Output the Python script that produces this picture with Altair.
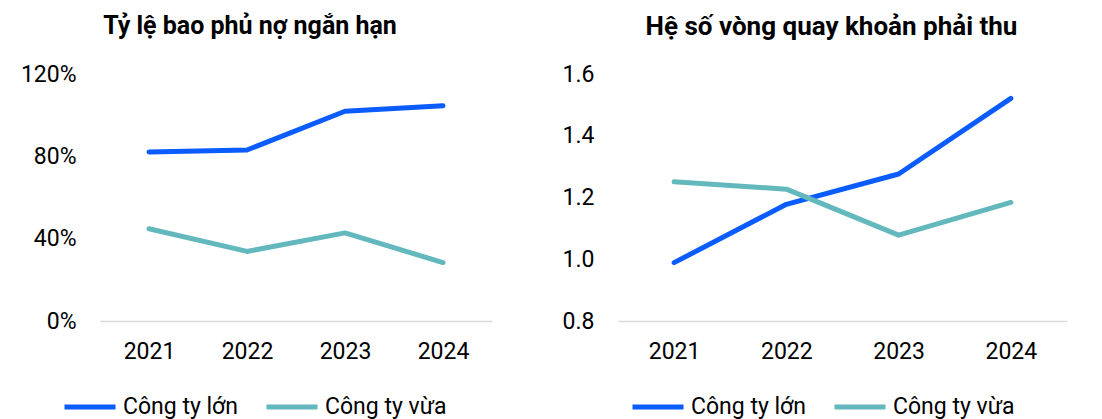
import altair as alt
import pandas as pd

years = ["2021", "2022", "2023", "2024"]
series = ["Công ty lớn", "Công ty vừa"]
colors = ["#0a5cff", "#62b8bc"]

coverage_large = [0.821, 0.831, 1.019, 1.046]
coverage_medium = [0.448, 0.338, 0.428, 0.284]
turnover_large = [0.989, 1.178, 1.276, 1.521]
turnover_medium = [1.251, 1.227, 1.078, 1.184]

title_left = "Tỷ lệ bao phủ nợ ngắn hạn"
title_right = "Hệ số vòng quay khoản phải thu"

FONT = "Roboto"
FS = 23


def make_df(a, b):
    rows = []
    for y, v in zip(years, a):
        rows.append({"Năm": y, "Nhóm": series[0], "v": v})
    for y, v in zip(years, b):
        rows.append({"Năm": y, "Nhóm": series[1], "v": v})
    return pd.DataFrame(rows)


def panel(df, title, width, domain, ticks, fmt, legend_x, title_dx, title_fs, title_off):
    return (
        alt.Chart(df)
        .mark_line(strokeWidth=5, strokeCap="round", strokeJoin="round")
        .encode(
            x=alt.X(
                "Năm:N",
                sort=years,
                scale=alt.Scale(type="point", padding=0.5),
                axis=alt.Axis(
                    title=None,
                    labelAngle=0,
                    ticks=False,
                    domainColor="#d9d9d9",
                    domainWidth=1.5,
                    labelPadding=19,
                    labelFontSize=FS,
                    labelColor="#000000",
                    labelFont=FONT,
                    grid=False,
                ),
            ),
            y=alt.Y(
                "v:Q",
                scale=alt.Scale(domain=domain, nice=False, zero=False),
                axis=alt.Axis(
                    title=None,
                    values=ticks,
                    format=fmt,
                    ticks=False,
                    domain=False,
                    grid=False,
                    labelPadding=24,
                    labelFontSize=FS,
                    labelColor="#000000",
                    labelFont=FONT,
                ),
            ),
            color=alt.Color(
                "Nhóm:N",
                sort=series,
                scale=alt.Scale(domain=series, range=colors),
                legend=alt.Legend(
                    title=None,
                    orient="none",
                    direction="horizontal",
                    legendX=legend_x,
                    legendY=305,
                    symbolType="stroke",
                    symbolSize=2601,
                    symbolStrokeWidth=5,
                    labelFontSize=FS,
                    labelFont=FONT,
                    labelColor="#000000",
                    labelOffset=5,
                    columnPadding=18,
                    padding=0,
                ),
            ),
        )
        .properties(
            width=width,
            height=247,
            title=alt.TitleParams(
                text=title,
                font=FONT,
                fontSize=title_fs,
                fontWeight="bold",
                color="#000000",
                anchor="middle",
                offset=title_off,
                dx=title_dx,
            ),
        )
    )


left = panel(
    make_df(coverage_large, coverage_medium),
    title_left, 392, [0, 1.2], [0, 0.4, 0.8, 1.2], ".0%", -38, -46, 25, 24,
)
right = panel(
    make_df(turnover_large, turnover_medium),
    title_right, 449, [0.8, 1.6], [0.8, 1.0, 1.2, 1.4, 1.6], ".1f", 12, -11, 26, 23,
)

chart = (
    alt.hconcat(left, right, spacing=70)
    .resolve_scale(color="independent")
    .resolve_legend(color="independent")
    .properties(padding={"left": 12, "top": 6, "right": 0, "bottom": 0})
    .configure_view(stroke=None)
)

chart.save("out.html", embed_options={"renderer": "svg", "actions": False})
